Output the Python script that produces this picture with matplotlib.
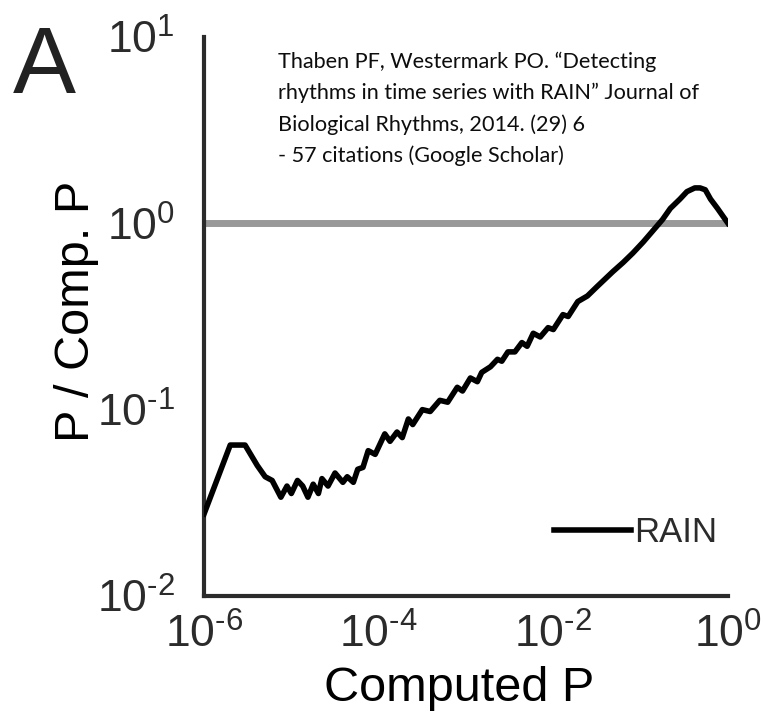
import numpy as np
import matplotlib
matplotlib.use("Agg")
import matplotlib.pyplot as plt

plt.rcParams["font.family"] = ["Liberation Sans", "DejaVu Sans"]
plt.rcParams["mathtext.fontset"] = "custom"
plt.rcParams["mathtext.rm"] = "Liberation Sans"
plt.rcParams["mathtext.it"] = "Liberation Sans:italic"
plt.rcParams["mathtext.bf"] = "Liberation Sans:bold"

# RAIN: ratio of reported P to computed P, both stored as log10 values
log10_computed_p = [
    -6.00, -5.70, -5.53, -5.39, -5.30, -5.22, -5.12, -5.05, -5.00, -4.93,
    -4.87, -4.81, -4.75, -4.69, -4.65, -4.58, -4.50, -4.41, -4.36, -4.29,
    -4.24, -4.18, -4.12, -4.04, -3.98, -3.93, -3.87, -3.79, -3.73, -3.66,
    -3.61, -3.50, -3.41, -3.30, -3.21, -3.10, -3.04, -2.95, -2.87, -2.82,
    -2.72, -2.64, -2.59, -2.52, -2.44, -2.36, -2.30, -2.23, -2.15, -2.06,
    -2.00, -1.89, -1.83, -1.72, -1.61, -1.50, -1.41, -1.32, -1.20, -1.09,
    -0.97, -0.86, -0.75, -0.66, -0.55, -0.47, -0.38, -0.32, -0.26, -0.20,
    -0.12, 0.00,
]
log10_ratio = [
    -1.56, -1.19, -1.19, -1.30, -1.36, -1.38, -1.47, -1.41, -1.45, -1.38,
    -1.41, -1.47, -1.40, -1.45, -1.37, -1.41, -1.34, -1.39, -1.36, -1.39,
    -1.32, -1.31, -1.22, -1.24, -1.18, -1.13, -1.17, -1.12, -1.15, -1.05,
    -1.08, -1.00, -1.01, -0.95, -0.96, -0.88, -0.90, -0.83, -0.85, -0.80,
    -0.77, -0.73, -0.74, -0.69, -0.69, -0.64, -0.66, -0.59, -0.61, -0.56,
    -0.57, -0.49, -0.50, -0.42, -0.39, -0.34, -0.30, -0.26, -0.21, -0.16,
    -0.10, -0.04, 0.02, 0.08, 0.13, 0.17, 0.19, 0.19, 0.18, 0.13,
    0.08, 0.00,
]
reference_x = [1e-6, 1e0]
reference_y = [1.0, 1.0]

x_ticks = [1e-6, 1e-4, 1e-2, 1e0]
x_tick_labels = [r"$\mathregular{10^{\text{-}6}}$", r"$\mathregular{10^{\text{-}4}}$",
                 r"$\mathregular{10^{\text{-}2}}$", r"$\mathregular{10^{0}}$"]
y_ticks = [1e-2, 1e-1, 1e0, 1e1]
y_tick_labels = [r"$\mathregular{10^{\text{-}2}}$", r"$\mathregular{10^{\text{-}1}}$",
                 r"$\mathregular{10^{0}}$", r"$\mathregular{10^{1}}$"]

citation_lines = [
    "Thaben PF, Westermark PO. \u201cDetecting",
    "rhythms in time series with RAIN\u201d Journal of",
    "Biological Rhythms, 2014. (29) 6",
    "- 57 citations (Google Scholar)",
]

fig = plt.figure(figsize=(7.63, 7.21), dpi=100)
ax = fig.add_axes([0.2674, 0.1734, 0.6867, 0.7753])

ax.plot(reference_x, reference_y, color="#999999", lw=5,
        solid_capstyle="butt", zorder=2)
ax.plot(10 ** np.array(log10_computed_p), 10 ** np.array(log10_ratio),
        color="black", lw=4, solid_joinstyle="round", label="RAIN", zorder=3)

ax.set_xscale("log")
ax.set_yscale("log")
ax.set_xlim(1e-6, 1e0)
ax.set_ylim(1e-2, 1e1)
ax.minorticks_off()
ax.set_xticks(x_ticks)
ax.set_xticklabels(x_tick_labels)
ax.set_yticks(y_ticks)
ax.set_yticklabels(y_tick_labels)
ax.tick_params(axis="both", length=0, labelsize=32, labelcolor="#2b2b2b")
ax.tick_params(axis="x", pad=13)
ax.tick_params(axis="y", pad=21)

for side in ("top", "right"):
    ax.spines[side].set_visible(False)
for side in ("left", "bottom"):
    ax.spines[side].set_linewidth(3)
    ax.spines[side].set_color("#2b2b2b")

ax.set_xlabel("Computed P", fontsize=35)
ax.set_ylabel("P / Comp. P", fontsize=35)
ax.xaxis.set_label_coords(0.486, -0.125)
ax.yaxis.set_label_coords(-0.20, 0.51)

leg = ax.legend(loc="center right", bbox_to_anchor=(1.006, 0.113),
                frameon=False, fontsize=25, handlelength=2.2,
                handletextpad=0.1, borderaxespad=0)
for t in leg.get_texts():
    t.set_color("#2b2b2b")

fig.text(0.017, 0.871, "A", fontsize=68, color="#222222", va="baseline")

fig.text(278 / 763, 1 - 52 / 721, "\n".join(citation_lines),
         family=["Lato", "DejaVu Sans"], fontsize=15.6, color="#0d0d0d",
         va="top", ha="left", linespacing=1.65)

fig.savefig("out.png", dpi=100)
